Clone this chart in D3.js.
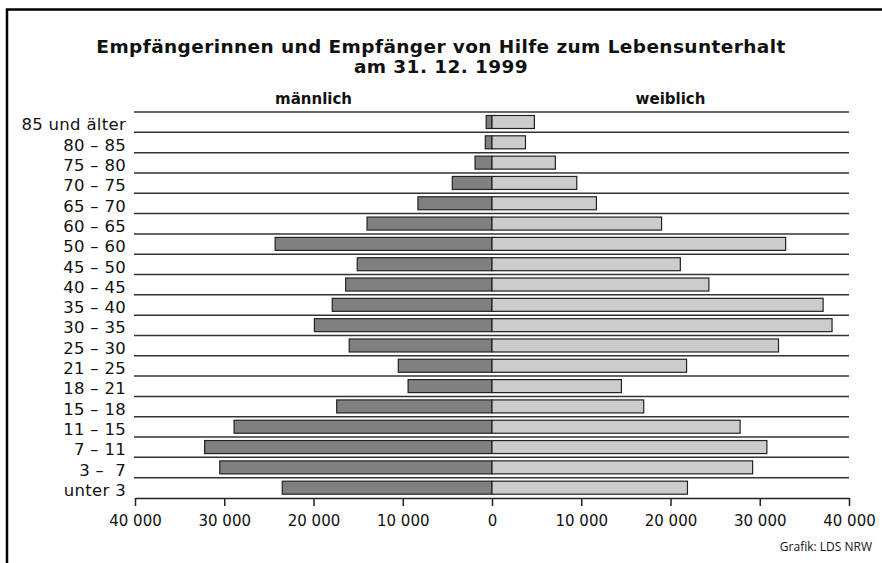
<!DOCTYPE html>
<html lang="de">
<head>
    <meta charset="UTF-8">
    <title>Hilfe zum Lebensunterhalt 1999</title>
    <style>
        body { margin: 0; background: #fff; font-family: 'DejaVu Sans', sans-serif; }
        svg text { fill: #111; }
    </style>
</head>
<body>
<div id="chart"></div>
<script src="https://d3js.org/d3.v7.min.js"></script>
<script>
    // age groups, top to bottom
    const ageGroups = ["85 und älter", "80 – 85", "75 – 80", "70 – 75", "65 – 70", "60 – 65",
        "50 – 60", "45 – 50", "40 – 45", "35 – 40", "30 – 35", "25 – 30", "21 – 25",
        "18 – 21", "15 – 18", "11 – 15", "7 – 11", "3 –  7", "unter 3"];
    const maennlich = [650, 750, 1900, 4450, 8300, 14000, 24300, 15100, 16400, 17900,
        19900, 16000, 10500, 9400, 17400, 28900, 32200, 30500, 23500];
    const weiblich = [4750, 3750, 7100, 9500, 11700, 19000, 32900, 21100, 24300, 37100,
        38100, 32100, 21800, 14500, 17000, 27800, 30800, 29200, 21900];
    const tickValues = [-40000, -30000, -20000, -10000, 0, 10000, 20000, 30000, 40000];

    const width = 882, height = 563;
    const svg = d3.select("#chart").append("svg")
        .attr("width", width)
        .attr("height", height);

    // frame (left + top)
    svg.append("path")
        .attr("d", "M7,563V9.5H882")
        .attr("fill", "none")
        .attr("stroke", "#000")
        .attr("stroke-width", 2.5);

    const x = d3.scaleLinear().domain([-40000, 40000]).range([135, 849]);
    const y = d3.scaleBand().domain(ageGroups).range([112, 498]);

    // title
    svg.append("text")
        .attr("x", 441).attr("y", 53)
        .attr("text-anchor", "middle")
        .attr("font-size", 18.5).attr("font-weight", "bold")
        .attr("letter-spacing", 0.4)
        .text("Empfängerinnen und Empfänger von Hilfe zum Lebensunterhalt");
    svg.append("text")
        .attr("x", 441).attr("y", 73)
        .attr("text-anchor", "middle")
        .attr("font-size", 18.5).attr("font-weight", "bold")
        .attr("letter-spacing", 0.4)
        .text("am 31. 12. 1999");

    svg.append("text")
        .attr("x", x(-20000)).attr("y", 104)
        .attr("text-anchor", "middle")
        .attr("font-size", 15).attr("font-weight", "bold")
        .text("männlich");
    svg.append("text")
        .attr("x", x(20000)).attr("y", 104)
        .attr("text-anchor", "middle")
        .attr("font-size", 15).attr("font-weight", "bold")
        .text("weiblich");

    // row lines
    const lines = [y.range()[0]].concat(ageGroups.slice(0, -1).map(d => y(d) + y.bandwidth()));
    svg.selectAll(".row-line")
        .data(lines)
        .enter().append("line")
        .attr("class", "row-line")
        .attr("x1", 134).attr("x2", 849)
        .attr("y1", d => d).attr("y2", d => d)
        .attr("stroke", "#333")
        .attr("stroke-width", 1.5);

    // category labels
    svg.selectAll(".age")
        .data(ageGroups)
        .enter().append("text")
        .attr("class", "age")
        .attr("x", 126)
        .attr("y", d => y(d) + y.bandwidth() - 2)
        .attr("text-anchor", "end")
        .attr("font-size", 16.5)
        .attr("letter-spacing", 0.3)
        .style("white-space", "pre")
        .text(d => d);

    const barY = d => y(d) + 3.5;
    const barH = 13;

    svg.selectAll(".m")
        .data(ageGroups)
        .enter().append("rect")
        .attr("class", "m")
        .attr("x", (d, i) => x(-maennlich[i]))
        .attr("y", barY)
        .attr("width", (d, i) => x(0) - x(-maennlich[i]))
        .attr("height", barH)
        .attr("fill", "#808080")
        .attr("stroke", "#222")
        .attr("stroke-width", 1.2);

    svg.selectAll(".w")
        .data(ageGroups)
        .enter().append("rect")
        .attr("class", "w")
        .attr("x", x(0))
        .attr("y", barY)
        .attr("width", (d, i) => x(weiblich[i]) - x(0))
        .attr("height", barH)
        .attr("fill", "#cccccc")
        .attr("stroke", "#222")
        .attr("stroke-width", 1.2);

    // x axis
    const axis = d3.axisBottom(x)
        .tickValues(tickValues)
        .tickSize(8)
        .tickSizeOuter(0)
        .tickPadding(9)
        .tickFormat(d => d3.format(",")(Math.abs(d)).replace(/,/g, " "));
    const gAxis = svg.append("g")
        .attr("transform", "translate(0,498)")
        .call(axis);
    gAxis.select(".domain").attr("stroke", "#222").attr("stroke-width", 1.5);
    gAxis.selectAll(".tick line").attr("stroke", "#222").attr("stroke-width", 1.5);
    gAxis.selectAll(".tick text")
        .attr("font-family", "'DejaVu Sans', sans-serif")
        .attr("font-size", 15)
        .attr("fill", "#111");

    svg.append("text")
        .attr("x", 872).attr("y", 551)
        .attr("text-anchor", "end")
        .attr("font-family", "'Open Sans', sans-serif")
        .attr("font-size", 12)
        .text("Grafik: LDS NRW");
</script>
</body>
</html>
